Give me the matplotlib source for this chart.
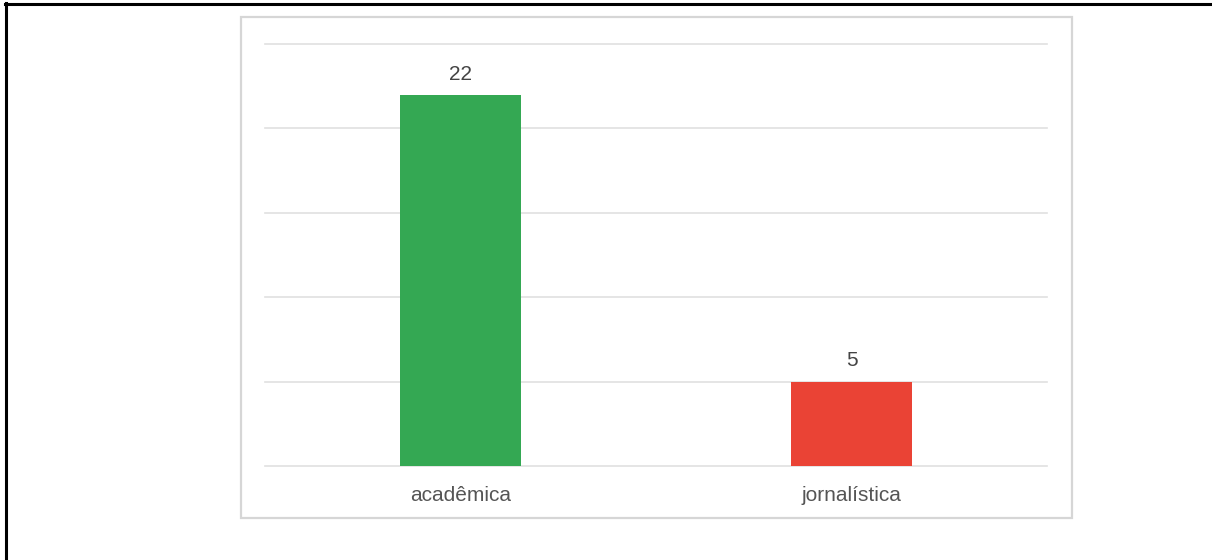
import matplotlib
matplotlib.use("Agg")
import matplotlib.pyplot as plt
from matplotlib.patches import Rectangle
from matplotlib.lines import Line2D

categories = ["acadêmica", "jornalística"]
values = [22, 5]
colors = ["#34A853", "#EA4335"]
yticks = [0, 5, 10, 15, 20, 25]

W, H = 1212, 560
fig = plt.figure(figsize=(W / 100, H / 100), dpi=100)
plt.rcParams['font.family'] = ['Liberation Sans', 'DejaVu Sans']

# outer black border (top and left)
fig.add_artist(Line2D([6 / W, 6 / W], [0, 1 - 3 / H], transform=fig.transFigure, color="black", lw=2.2))
fig.add_artist(Line2D([5 / W, 1], [1 - 4 / H, 1 - 4 / H], transform=fig.transFigure, color="black", lw=2.2))

# inner chart frame
fig.add_artist(Rectangle((241 / W, 1 - 518 / H), (1072 - 241) / W, (518 - 17) / H,
                         transform=fig.transFigure, fill=False, edgecolor="#d6d6d6", lw=1.6))

ax = fig.add_axes([265 / W, 1 - 466 / H, (1047 - 265) / W, (466 - 44) / H])
x = list(range(len(categories)))
bars = ax.bar(x, values, width=0.31, color=colors, zorder=3)
ax.set_xlim(-0.5, len(categories) - 0.5)
ax.set_ylim(0, 25)
ax.set_yticks(yticks)
ax.tick_params(axis="y", left=False, labelleft=False)
ax.tick_params(axis="x", bottom=False, pad=11, labelsize=15, labelcolor="#555555")
ax.set_xticks(x)
ax.set_xticklabels(categories)
for s in ax.spines.values():
    s.set_visible(False)
for yv in yticks:
    ax.axhline(yv, color="#e0e0e0", lw=1.2, zorder=0, clip_on=False)

for xi, v in zip(x, values):
    ax.annotate(str(v), (xi, v), xytext=(0, 8), textcoords="offset points",
                ha="center", va="bottom", fontsize=15, color="#444444")

fig.savefig("out.png", dpi=100)
